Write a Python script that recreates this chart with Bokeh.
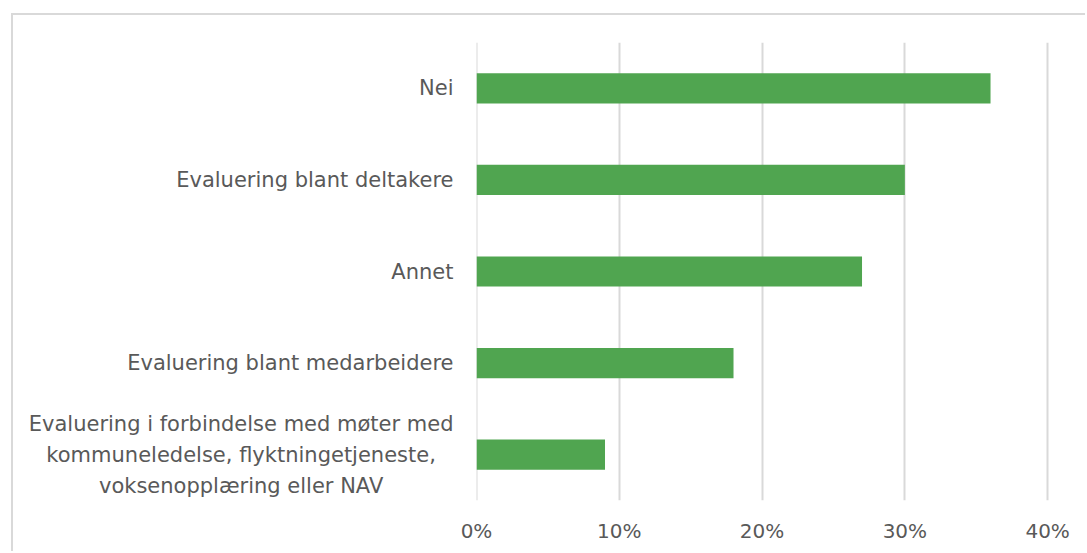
from bokeh.plotting import figure
from bokeh.models import NumeralTickFormatter, FixedTicker, Range1d, Span
from bokeh.core.properties import value
from bokeh.embed import file_html
from bokeh.resources import INLINE

categories = [
    "Nei",
    "Evaluering blant deltakere",
    "Annet",
    "Evaluering blant medarbeidere",
    "Evaluering i forbindelse med møter med\nkommuneledelse, flyktningetjeneste,\nvoksenopplæring eller NAV",
]
values = [0.36, 0.30, 0.27, 0.18, 0.09]
ticks = [0.0, 0.1, 0.2, 0.3, 0.4]

FONT = "DejaVu Sans"
TXT = "#595959"
GRID = "#d9d9d9"

p = figure(
    y_range=list(reversed(categories)),
    x_range=Range1d(0, 0.402),
    width=1074, height=538,
    output_backend="svg", toolbar_location=None,
    min_border_left=463, min_border_right=37, min_border_top=27, min_border_bottom=53,
)
p.margin = (13, 0, 0, 11)
p.styles = {"border-top": f"2px solid {GRID}", "border-left": f"2px solid {GRID}"}

# gridline at 0 % (the grid itself skips the range start)
p.add_layout(Span(location=ticks[0], dimension="height", line_color=GRID, line_width=2, level="underlay"))

p.hbar(y=categories, right=values, left=0, height=0.33, color="#50a550", line_color=None)

# category labels (right edge 23px left of the axis, lines centred within the block)
p.text(
    x=[0] * len(categories), y=categories, text=categories,
    x_offset=-23, anchor="center_right", text_align="center", text_baseline="middle",
    text_font=value(FONT), text_font_size=value("21px"), text_color=TXT,
    text_line_height=1.3, level="annotation",
)

p.outline_line_color = None
p.background_fill_color = "white"
p.border_fill_color = "white"

p.xaxis.ticker = FixedTicker(ticks=ticks)
p.xaxis.formatter = NumeralTickFormatter(format="0%")
p.xaxis.axis_line_color = None
p.xaxis.major_tick_line_color = None
p.xaxis.major_tick_out = 0
p.xaxis.minor_tick_line_color = None
p.xaxis.major_label_standoff = 18
p.xaxis.major_label_text_font = FONT
p.xaxis.major_label_text_font_size = "20px"
p.xaxis.major_label_text_color = TXT

p.yaxis.visible = False

p.xgrid.grid_line_color = GRID
p.xgrid.grid_line_width = 2
p.ygrid.grid_line_color = None

open("out.html", "w").write(file_html(p, INLINE))
